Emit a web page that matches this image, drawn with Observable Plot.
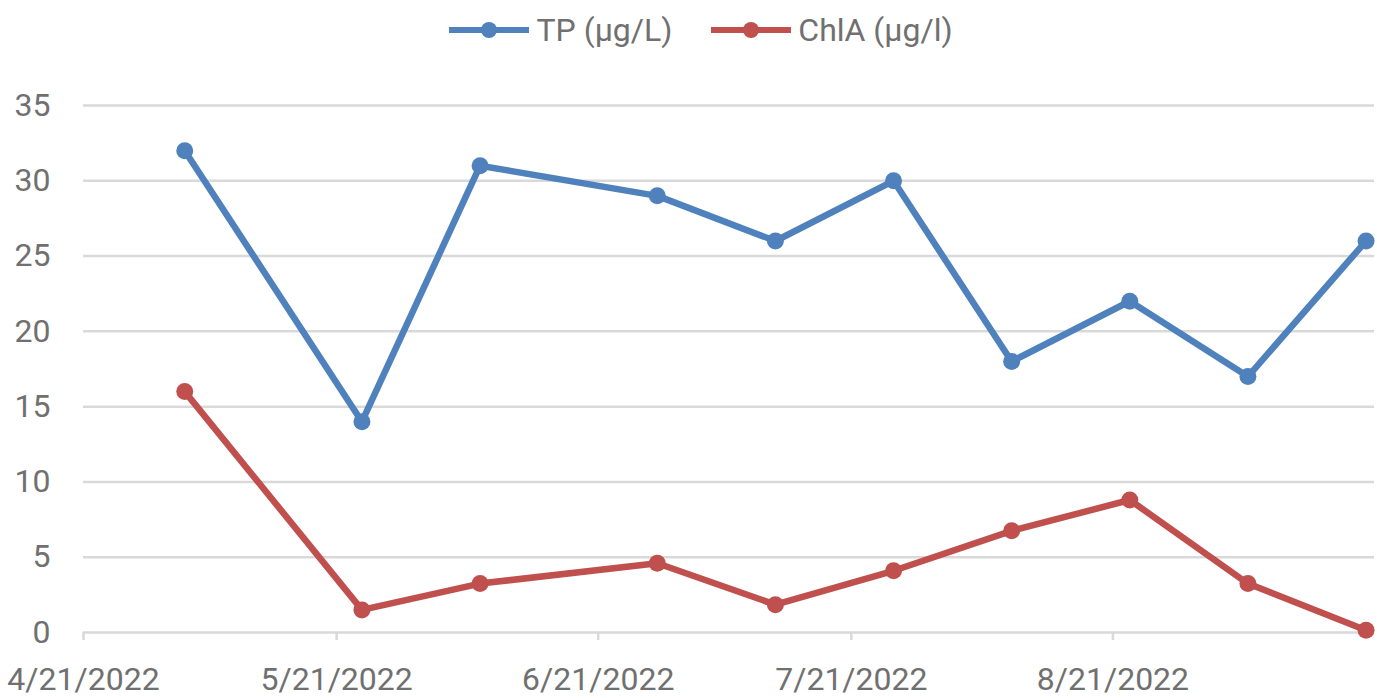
<!DOCTYPE html>
<html>
<head>
<meta charset="utf-8">
<script src="https://cdn.jsdelivr.net/npm/d3@7"></script>
<script src="https://cdn.jsdelivr.net/npm/@observablehq/plot@0.6"></script>
<style>
  html, body { margin: 0; padding: 0; background: #fff; }
  body { width: 1377px; height: 698px; overflow: hidden; font-family: Roboto, "Liberation Sans", sans-serif; }
  #legend { height: 60px; display: flex; justify-content: center; align-items: center; gap: 38px; padding-left: 24px; box-sizing: border-box; font-size: 32px; color: #707070; }
  .item { display: flex; align-items: center; gap: 6px; }
  .item svg { display: block; }
</style>
</head>
<body>
<div id="legend"></div>
<div id="chart"></div>
<script>
// ---- data ----
const dates = ["2022-05-03","2022-05-24","2022-06-07","2022-06-28","2022-07-12","2022-07-26","2022-08-09","2022-08-23","2022-09-06","2022-09-20"];
const tp   = [32, 14, 31, 29, 26, 30, 18, 22, 17, 26];
const chla = [16, 1.5, 3.25, 4.6, 1.85, 4.1, 6.75, 8.8, 3.25, 0.15];
const seriesNames = ["TP (µg/L)", "ChlA (µg/l)"];
const seriesColors = ["#4f81bd", "#c0504d"];
const xTickDates = ["2022-04-21","2022-05-21","2022-06-21","2022-07-21","2022-08-21"];
const yTicks = [0, 5, 10, 15, 20, 25, 30, 35];
const xDomain = ["2022-04-21", "2022-09-21"];

const parse = d3.utcParse("%Y-%m-%d");
const rows = [];
dates.forEach((d, i) => {
  rows.push({date: parse(d), value: tp[i], series: seriesNames[0]});
});
dates.forEach((d, i) => {
  rows.push({date: parse(d), value: chla[i], series: seriesNames[1]});
});

// legend
const legend = document.getElementById("legend");
seriesNames.forEach((name, i) => {
  const item = document.createElement("div");
  item.className = "item";
  item.innerHTML = `<svg width="82" height="20"><line x1="1" y1="10" x2="81" y2="10" stroke="${seriesColors[i]}" stroke-width="6"/><circle cx="41" cy="10" r="8" fill="${seriesColors[i]}"/></svg><span>${name}</span>`;
  legend.appendChild(item);
});

const textColor = "#707070";
const gridColor = "#d9d9d9";

const chart = Plot.plot({
  width: 1377,
  height: 638,
  marginLeft: 83,
  marginRight: 3,
  marginTop: 45,
  marginBottom: 66,
  style: {fontFamily: "Roboto, 'Liberation Sans', sans-serif", background: "#fff"},
  x: {type: "utc", domain: xDomain.map(parse)},
  y: {domain: [0, 35]},
  color: {domain: seriesNames, range: seriesColors},
  marks: [
    Plot.gridY(yTicks, {stroke: gridColor, strokeOpacity: 1, strokeWidth: 2.5}),
    Plot.axisY(yTicks, {tickSize: 0, tickPadding: 33, fontSize: 32, fill: textColor, label: null}),
    Plot.axisX(xTickDates.map(parse), {tickSize: 8, tickPadding: 27, stroke: gridColor, strokeWidth: 2.5, fontSize: 32, fill: textColor, tickFormat: d3.utcFormat("%-m/%-d/%Y"), label: null}),
    Plot.line(rows, {x: "date", y: "value", z: "series", stroke: "series", strokeWidth: 6.5, strokeLinejoin: "round", strokeLinecap: "round"}),
    Plot.dot(rows, {x: "date", y: "value", fill: "series", r: 8.5})
  ]
});
document.getElementById("chart").appendChild(chart);
</script>
</body>
</html>
